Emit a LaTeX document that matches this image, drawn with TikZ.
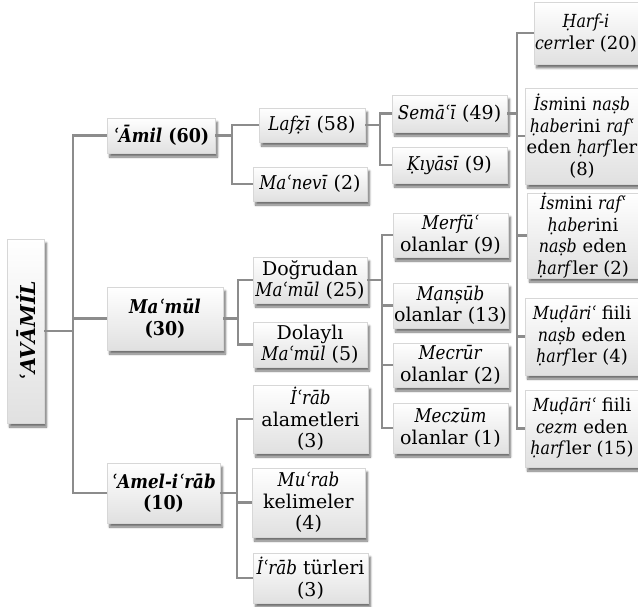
\documentclass[tikz,border=0pt]{standalone}
\usepackage{fontspec}
\setmainfont{DejaVu Serif}[
  ItalicFeatures={FakeStretch=0.88},
  BoldItalicFeatures={FakeStretch=0.88},
  BoldFeatures={FakeStretch=0.92}]
\newfontfamily\plainserif{DejaVu Serif}
\usetikzlibrary{shadows.blur}
\definecolor{linkgray}{RGB}{140,140,140}
\definecolor{boxedge}{RGB}{215,215,215}
\newcommand{\tx}[1]{\textit{#1}}
\begin{document}
\begin{tikzpicture}[x=1pt,y=-1pt,
  box/.style={draw=boxedge, line width=0.4pt, top color=white, bottom color=black!12,
    blur shadow={shadow xshift=2.5pt, shadow yshift=-4pt, shadow blur steps=6, shadow opacity=55},
    inner sep=0pt, align=center, font=\fontsize{19}{21.5}\selectfont},
  edgebox/.style={box, font=\fontsize{18}{21.5}\selectfont},
  link/.style={draw=linkgray, line width=2.4pt}]
\useasboundingbox (0,0) rectangle (638,607);

% root
\node[box, rotate=90, minimum width=184pt, minimum height=37pt,
      font=\plainserif\fontsize{20.5}{22}\selectfont] (root) at (25.5,331)
  {\textbf{\textit{ʿAVĀMİL}}};

% first level
\node[box, minimum width=108pt, minimum height=35pt] (amil) at (161,135.5)
  {\textbf{\textit{ʿĀmil} (60)}};
\node[box, minimum width=116pt, minimum height=63pt] (mamul) at (165,318.5)
  {\textbf{\textit{Maʿmūl}}\\\textbf{(30)}};
\node[box, minimum width=113pt, minimum height=60pt] (amel) at (163.5,493)
  {\textbf{\textit{ʿAmel-iʿrāb}}\\\textbf{(10)}};

% second level
\node[box, minimum width=106pt, minimum height=34pt] (lafzi) at (312,125)
  {\tx{Lafẓī} (58)};
\node[box, minimum width=114pt, minimum height=34pt] (manevi) at (310,184)
  {\tx{Maʿnevī} (2)};
\node[box, minimum width=114pt, minimum height=46pt] (dogrudan) at (310,280)
  {Doğrudan\\\tx{Maʿmūl} (25)};
\node[box, minimum width=114pt, minimum height=45pt] (dolayli) at (310,344.5)
  {Dolaylı\\\tx{Maʿmūl} (5)};
\node[box, minimum width=115pt, minimum height=68pt] (irab1) at (310.5,419)
  {\tx{İʿrāb}\\alametleri\\(3)};
\node[box, minimum width=113pt, minimum height=69pt] (murab) at (308.5,502.5)
  {\tx{Muʿrab}\\kelimeler\\(4)};
\node[box, minimum width=115pt, minimum height=50pt] (irab2) at (310.5,578)
  {\tx{İʿrāb} türleri\\(3)};

% third level
\node[box, minimum width=115pt, minimum height=37pt] (semai) at (449.5,113.5)
  {\tx{Semāʿī} (49)};
\node[box, minimum width=115pt, minimum height=36pt] (kiyasi) at (449.5,165)
  {\tx{Ḳıyāsī} (9)};
\node[box, minimum width=115pt, minimum height=44pt] (merfu) at (450.5,235)
  {\tx{Merfūʿ}\\olanlar (9)};
\node[box, minimum width=115pt, minimum height=45pt] (mansub) at (450.5,305.5)
  {\tx{Manṣūb}\\olanlar (13)};
\node[box, minimum width=115pt, minimum height=44pt] (mecrur) at (450.5,365)
  {\tx{Mecrūr}\\olanlar (2)};
\node[box, minimum width=115pt, minimum height=50pt] (meczum) at (450.5,428)
  {\tx{Meczūm}\\olanlar (1)};

% fourth level
\node[edgebox, minimum width=104pt, minimum height=62pt] (harf) at (586,33)
  {\tx{Ḥarf-i}\\\tx{cerr}ler (20)};
\node[edgebox, minimum width=114pt, minimum height=96pt] (isnasb) at (582,136)
  {\tx{İsm}ini \tx{naṣb}\\\tx{ḥaber}ini \tx{rafʿ}\\eden \tx{ḥarf}ler\\(8)};
\node[edgebox, minimum width=112pt, minimum height=85pt] (israf) at (583,235.5)
  {\tx{İsm}ini \tx{rafʿ}\\\tx{ḥaber}ini\\\tx{naṣb} eden\\\tx{ḥarf}ler (2)};
\node[edgebox, minimum width=114pt, minimum height=77pt] (mudnasb) at (582,336.5)
  {\tx{Muḍāriʿ} fiili\\\tx{naṣb} eden\\\tx{ḥarf}ler (4)};
\node[edgebox, minimum width=114pt, minimum height=77pt] (mudcezm) at (582,428.5)
  {\tx{Muḍāriʿ} fiili\\\tx{cezm} eden\\\tx{ḥarf}ler (15)};

% trunk positions
\coordinate (t0) at (73,0);
\coordinate (t1) at (232,0);
\coordinate (t2) at (238,0);
\coordinate (t3) at (237,0);
\coordinate (t4) at (380,0);
\coordinate (t5) at (382,0);
\coordinate (t6) at (517,0);

% connectors
\draw[link] (root.south) -- (root.south -| t0) |- (amil.west);
\draw[link] (root.south -| t0) |- (mamul.west);
\draw[link] (root.south -| t0) |- (amel.west);

\draw[link] (amil.east) -- (amil.east -| t1) |- (lafzi.west);
\draw[link] (amil.east -| t1) |- (manevi.west);

\draw[link] (mamul.east) -- (mamul.east -| t2) |- (dogrudan.west);
\draw[link] (mamul.east -| t2) |- (dolayli.west);

\draw[link] (amel.east) -- (amel.east -| t3) |- (irab1.west);
\draw[link] (amel.east -| t3) |- (murab.west);
\draw[link] (amel.east -| t3) |- (irab2.west);

\draw[link] (lafzi.east) -- (lafzi.east -| t4) |- (semai.west);
\draw[link] (lafzi.east -| t4) |- (kiyasi.west);

\draw[link] (dogrudan.east) -- (dogrudan.east -| t5) |- (merfu.west);
\draw[link] (dogrudan.east -| t5) |- (mansub.west);
\draw[link] (dogrudan.east -| t5) |- (mecrur.west);
\draw[link] (dogrudan.east -| t5) |- (meczum.west);

\draw[link] (semai.east) -- (semai.east -| t6) |- (harf.west);
\draw[link] (semai.east -| t6) |- (isnasb.west);
\draw[link] (semai.east -| t6) |- (israf.west);
\draw[link] (semai.east -| t6) |- (mudnasb.west);
\draw[link] (semai.east -| t6) |- (mudcezm.west);
\end{tikzpicture}
\end{document}
